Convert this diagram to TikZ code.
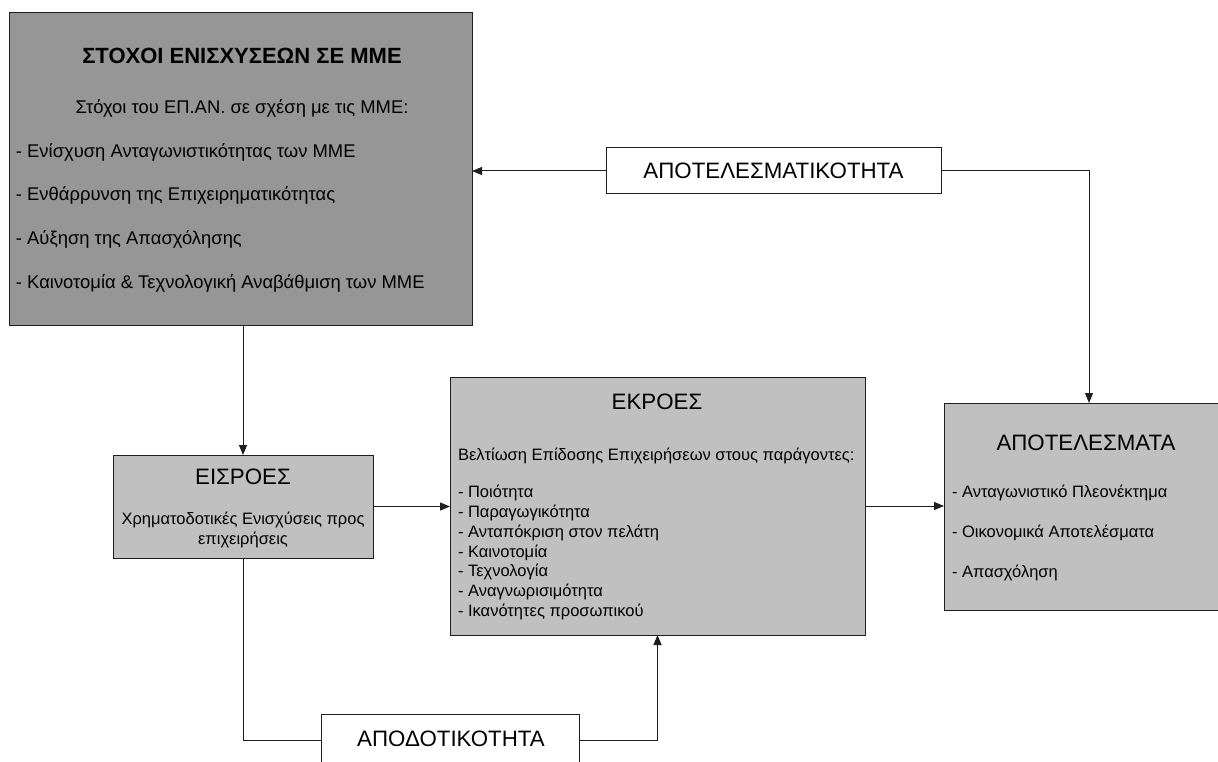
\documentclass[tikz,border=0pt]{standalone}
\usepackage{fontspec}
\setmainfont{Liberation Sans}
\usetikzlibrary{arrows.meta}
\definecolor{darkbox}{RGB}{150,150,150}
\definecolor{lightbox}{RGB}{192,192,192}
\definecolor{edge}{RGB}{30,30,30}
\tikzset{
  box/.style={draw=edge, line width=1pt, rectangle, inner sep=0pt, outer sep=0pt, anchor=north west},
  lbl/.style={inner sep=0pt, outer sep=0pt, text=black},
  wire/.style={draw=edge, line width=1pt},
  arr/.style={wire, -{Triangle[length=10pt,width=8pt]}},
  fbig/.style={font=\fontsize{22.3}{26}\selectfont},
  fbold/.style={font=\fontsize{22}{26}\selectfont\bfseries},
  fmid/.style={font=\fontsize{18.4}{21}\selectfont},
  fsmall/.style={font=\fontsize{16.5}{19}\selectfont},
}
\begin{document}
\begin{tikzpicture}[x=1pt,y=-1pt]
\useasboundingbox (0,0) rectangle (1218,762);
% boxes
\node[box, fill=darkbox, minimum width=463, minimum height=312] (stochoi) at (9,13) {};
\node[box, fill=white, minimum width=335, minimum height=46] (aptk) at (606,148) {};
\node[box, fill=lightbox, minimum width=260, minimum height=103] (eis) at (113,455) {};
\node[box, fill=lightbox, minimum width=415, minimum height=258] (ek) at (450,377) {};
\node[box, fill=lightbox, minimum width=290, minimum height=207] (apot) at (944,403) {};
\node[box, fill=white, minimum width=258, minimum height=52] (apod) at (321,714) {};
% texts: top box
\node[lbl, fbold] (t0) at (242,56) {ΣΤΟΧΟΙ ΕΝΙΣΧΥΣΕΩΝ ΣΕ ΜΜΕ};
\node[lbl, fmid] (t1) at (242,108) {Στόχοι του ΕΠ.ΑΝ. σε σχέση με τις ΜΜΕ:};
\node[lbl, fmid, anchor=west] (t2) at (16,152) {- Ενίσχυση Ανταγωνιστικότητας των ΜΜΕ};
\node[lbl, fmid, anchor=west] (t3) at (16,195) {- Ενθάρρυνση της Επιχειρηματικότητας};
\node[lbl, fmid, anchor=west] (t4) at (16,239) {- Αύξηση της Απασχόλησης};
\node[lbl, fmid, anchor=west] (t5) at (16,283) {- Καινοτομία \& Τεχνολογική Αναβάθμιση των ΜΜΕ};
% ΑΠΟΤΕΛΕΣΜΑΤΙΚΟΤΗΤΑ
\node[lbl, fbig] (a0) at (aptk.center) {ΑΠΟΤΕΛΕΣΜΑΤΙΚΟΤΗΤΑ};
% ΕΙΣΡΟΕΣ
\node[lbl, fbig] (i0) at (243,477) {ΕΙΣΡΟΕΣ};
\node[lbl, fsmall] (i1) at (243,520) {Χρηματοδοτικές Ενισχύσεις προς};
\node[lbl, fsmall] (i2) at (243,540) {επιχειρήσεις};
% ΕΚΡΟΕΣ
\node[lbl, fbig] (k0) at (657,402) {ΕΚΡΟΕΣ};
\node[lbl, fsmall, anchor=west] (k1) at (458,456) {Βελτίωση Επίδοσης Επιχειρήσεων στους παράγοντες:};
\node[lbl, fsmall, anchor=west] (k2) at (458,493) {- Ποιότητα};
\node[lbl, fsmall, anchor=west] (k3) at (458,513) {- Παραγωγικότητα};
\node[lbl, fsmall, anchor=west] (k4) at (458,533) {- Ανταπόκριση στον πελάτη};
\node[lbl, fsmall, anchor=west] (k5) at (458,553) {- Καινοτομία};
\node[lbl, fsmall, anchor=west] (k6) at (458,572) {- Τεχνολογία};
\node[lbl, fsmall, anchor=west] (k7) at (458,592) {- Αναγνωρισιμότητα};
\node[lbl, fsmall, anchor=west] (k8) at (458,612) {- Ικανότητες προσωπικού};
% ΑΠΟΤΕΛΕΣΜΑΤΑ
\node[lbl, fbig] (r0) at (1086,443) {ΑΠΟΤΕΛΕΣΜΑΤΑ};
\node[lbl, fsmall, anchor=west] (r1) at (952,493) {- Ανταγωνιστικό Πλεονέκτημα};
\node[lbl, fsmall, anchor=west] (r2) at (952,533) {- Οικονομικά Αποτελέσματα};
\node[lbl, fsmall, anchor=west] (r3) at (952,573) {- Απασχόληση};
% ΑΠΟΔΟΤΙΚΟΤΗΤΑ
\node[lbl, fbig] (d0) at (451,739) {ΑΠΟΔΟΤΙΚΟΤΗΤΑ};
% connectors
\draw[arr] (aptk.west) -- (stochoi.east |- aptk.west);
\draw[arr] (aptk.east) -| (apot.north);
\draw[arr] (eis.north |- stochoi.south) -- (eis.north);
\draw[arr] (eis.east) -- (ek.west |- eis.east);
\draw[arr] (ek.east) -- (apot.west |- ek.east);
\draw[wire] (eis.south) |- (apod.west);
\draw[arr] (apod.east) -| (ek.south);
\end{tikzpicture}
\end{document}
